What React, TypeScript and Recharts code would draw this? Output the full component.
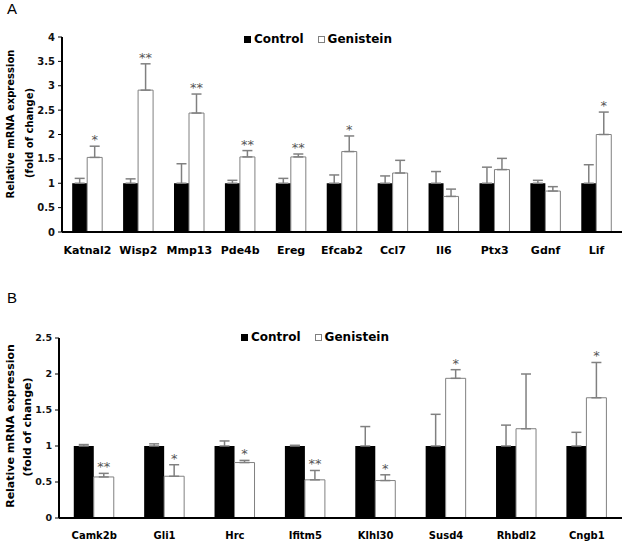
import { Bar, BarChart, ErrorBar, LabelList, XAxis, YAxis } from 'recharts'

// panel A
const genesA = ['Katnal2', 'Wisp2', 'Mmp13', 'Pde4b', 'Ereg', 'Efcab2', 'Ccl7', 'Il6', 'Ptx3', 'Gdnf', 'Lif']
const controlA = [1, 1, 1, 1, 1, 1, 1, 1, 1, 1, 1]
const controlErrA = [0.1, 0.09, 0.4, 0.06, 0.1, 0.17, 0.15, 0.24, 0.33, 0.06, 0.38]
const genisteinA = [1.53, 2.91, 2.44, 1.54, 1.54, 1.65, 1.21, 0.73, 1.28, 0.84, 2.0]
const genisteinErrA = [0.23, 0.54, 0.39, 0.13, 0.06, 0.32, 0.26, 0.15, 0.23, 0.09, 0.46]
const starsA = ['*', '**', '**', '**', '**', '*', '', '', '', '', '*']
const ticksA = [0, 0.5, 1, 1.5, 2, 2.5, 3, 3.5, 4]

// panel B
const genesB = ['Camk2b', 'Gli1', 'Hrc', 'Ifitm5', 'Klhl30', 'Susd4', 'Rhbdl2', 'Cngb1']
const controlB = [1, 1, 1, 1, 1, 1, 1, 1]
const controlErrB = [0.02, 0.03, 0.07, 0.01, 0.27, 0.44, 0.29, 0.19]
const genisteinB = [0.57, 0.58, 0.77, 0.53, 0.52, 1.94, 1.24, 1.67]
const genisteinErrB = [0.05, 0.16, 0.03, 0.13, 0.08, 0.12, 0.76, 0.49]
const starsB = ['**', '*', '*', '**', '*', '*', '', '*']
const ticksB = [0, 0.5, 1, 1.5, 2, 2.5]

const FONT = '"DejaVu Sans", Verdana, sans-serif'
const GREY = '#808080'

const buildRows = (genes: string[], ctrl: number[], ctrlErr: number[], gen: number[], genErr: number[]) =>
  genes.map((name, i) => ({
    name,
    control: ctrl[i],
    controlErr: [0, ctrlErr[i]],
    genistein: gen[i],
    genisteinErr: [0, genErr[i]],
  }))

const rowsA = buildRows(genesA, controlA, controlErrA, genisteinA, genisteinErrA)
const rowsB = buildRows(genesB, controlB, controlErrB, genisteinB, genisteinErrB)

// star sits above the error bar; pixels per unit come from the bar's own height
const starLabel = (stars: string[], gen: number[], genErr: number[]) => (props: any) => {
  const { x, y, width, height, index } = props
  const s = stars[index]
  if (!s) return null
  const errTop = y - (genErr[index] * height) / gen[index]
  return (
    <text x={x + width / 2} y={errTop - 2} textAnchor="middle" fontFamily={FONT} fontSize={13} fill="#555">
      {s}
    </text>
  )
}

const yLabel = (size: number, cx1: number, cy1: number, cx2: number, cy2: number) => () => (
  <g fontFamily={FONT} fontWeight="bold" fontSize={size} fill="#000">
    <text x={cx1} y={cy1} textAnchor="middle" dominantBaseline="central" transform={`rotate(-90 ${cx1} ${cy1})`}>
      Relative mRNA expression
    </text>
    <text x={cx2} y={cy2} textAnchor="middle" dominantBaseline="central" transform={`rotate(-90 ${cx2} ${cy2})`}>
      (fold of change)
    </text>
  </g>
)

function LegendBox({ left, top }: { left: number; top: number }) {
  return (
    <div
      style={{
        position: 'absolute',
        left,
        top,
        display: 'flex',
        alignItems: 'center',
        fontFamily: FONT,
        fontWeight: 'bold',
        fontSize: 12,
        color: '#000',
        lineHeight: '14px',
      }}
    >
      <span style={{ width: 7, height: 7, background: '#000', display: 'inline-block', marginRight: 3 }} />
      <span style={{ marginRight: 14 }}>Control</span>
      <span
        style={{
          width: 5,
          height: 5,
          background: '#fff',
          border: `1px solid ${GREY}`,
          display: 'inline-block',
          marginRight: 3,
        }}
      />
      <span>Genistein</span>
    </div>
  )
}

interface PanelProps {
  rows: any[]
  stars: string[]
  gen: number[]
  genErr: number[]
  ticks: number[]
  top: number
  height: number
  marginTop: number
  xAxisHeight: number
  yAxisWidth: number
  gap: string
  tickFont: number
  catFont: number
  label: () => JSX.Element
}

function Panel({
  rows,
  stars,
  gen,
  genErr,
  ticks,
  top,
  height,
  marginTop,
  xAxisHeight,
  yAxisWidth,
  gap,
  tickFont,
  catFont,
  label,
}: PanelProps) {
  return (
    <div style={{ position: 'absolute', left: 0, top }}>
      <BarChart
        width={625}
        height={height}
        data={rows}
        margin={{ top: marginTop, right: 3, left: 0, bottom: 0 }}
        barCategoryGap={gap}
        barGap={0}
      >
        <XAxis
          dataKey="name"
          interval={0}
          height={xAxisHeight}
          axisLine={{ stroke: '#000', strokeWidth: 2 }}
          tickLine={false}
          tickMargin={8}
          tick={{ fontFamily: FONT, fontWeight: 'bold', fontSize: catFont, fill: '#000' }}
        />
        <YAxis
          width={yAxisWidth}
          domain={[0, ticks[ticks.length - 1]]}
          ticks={ticks}
          interval={0}
          axisLine={{ stroke: '#000', strokeWidth: 2 }}
          tickLine={{ stroke: '#000', strokeWidth: 1 }}
          tickSize={4}
          tickMargin={3}
          tick={{ fontFamily: FONT, fontWeight: 'bold', fontSize: tickFont, fill: '#111' }}
          label={{ content: label }}
        />
        <Bar dataKey="control" name="Control" fill="#000" isAnimationActive={false}>
          <ErrorBar dataKey="controlErr" direction="y" width={5} stroke={GREY} strokeWidth={1.5} />
        </Bar>
        <Bar dataKey="genistein" name="Genistein" fill="#fff" stroke={GREY} strokeWidth={1} isAnimationActive={false}>
          <ErrorBar dataKey="genisteinErr" direction="y" width={5} stroke={GREY} strokeWidth={1.5} />
          <LabelList dataKey="genistein" content={starLabel(stars, gen, genErr)} />
        </Bar>
      </BarChart>
    </div>
  )
}

export default function App() {
  return (
    <div style={{ position: 'absolute', left: 0, top: 0, width: 625, height: 543, background: '#fff', overflow: 'hidden' }}>
      <div style={{ position: 'absolute', left: 7, top: 0, fontFamily: '"Liberation Sans", Arial, sans-serif', fontSize: 15 }}>A</div>
      <div style={{ position: 'absolute', left: 7, top: 289, fontFamily: '"Liberation Sans", Arial, sans-serif', fontSize: 15 }}>B</div>
      <Panel
        rows={rowsA}
        stars={starsA}
        gen={genisteinA}
        genErr={genisteinErrA}
        ticks={ticksA}
        top={0}
        height={260}
        marginTop={37}
        xAxisHeight={28}
        yAxisWidth={62}
        gap="20%"
        tickFont={10}
        catFont={11}
        label={yLabel(10, 10, 124, 29, 133)}
      />
      <Panel
        rows={rowsB}
        stars={starsB}
        gen={genisteinB}
        genErr={genisteinErrB}
        ticks={ticksB}
        top={285}
        height={258}
        marginTop={53}
        xAxisHeight={25}
        yAxisWidth={59}
        gap="21%"
        tickFont={9.5}
        catFont={10}
        label={yLabel(11, 10, 141, 27, 142)}
      />
      <LegendBox left={244} top={32} />
      <LegendBox left={241} top={330} />
    </div>
  )
}
